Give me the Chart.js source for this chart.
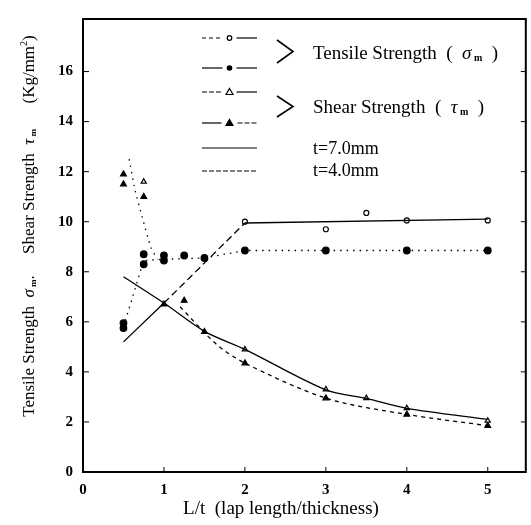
<!DOCTYPE html>
<html>
<head>
<meta charset="utf-8">
<title>Tensile and shear strength vs lap length</title>
<script src="https://cdn.jsdelivr.net/npm/chart.js@4.4.1/dist/chart.umd.min.js"></script>
<style>
  body { margin:0; background:#fff; }
  #wrap { width:531px; height:525px; }
</style>
</head>
<body>
<div id="wrap"><canvas id="myChart"></canvas></div>
<script>
// x = L/t (lap length/thickness), y = strength in Kg/mm2
// fitted lines
var tensile7LineX = [0.5, 1, 2, 5];
var tensile7LineY = [5.2, 6.75, 9.95, 10.1];
var tensile4LineX = [0.5, 0.75, 1, 1.5, 2, 5];
var tensile4LineY = [5.8, 8.45, 8.5, 8.55, 8.85, 8.85];
var shear7LineX = [0.5, 1, 1.5, 2, 3, 3.5, 4, 5];
var shear7LineY = [7.8, 6.75, 5.62, 4.9, 3.28, 2.94, 2.54, 2.1];
var shear4LineX = [1.2, 1.65, 2, 3, 4, 5];
var shear4LineY = [6.6, 5.1, 4.35, 2.95, 2.3, 1.85];
var shearShortLineX = [0.57, 0.64, 0.73, 0.84, 0.92];
var shearShortLineY = [12.5, 11.3, 10.2, 8.96, 8.5];

// measured points
var tensile7X = [2, 3, 3.5, 4, 5];
var tensile7Y = [10.0, 9.7, 10.35, 10.05, 10.05];
var tensile4X = [0.5, 0.5, 0.75, 0.75, 1, 1, 1.25, 1.5, 2, 3, 4, 5];
var tensile4Y = [5.95, 5.75, 8.7, 8.3, 8.65, 8.45, 8.65, 8.55, 8.85, 8.85, 8.85, 8.85];
var shear7X = [0.75, 2, 3, 3.5, 4, 5];
var shear7Y = [11.6, 4.9, 3.3, 2.95, 2.55, 2.05];
var shear4X = [0.5, 0.5, 0.75, 1, 1.25, 1.5, 2, 3, 4, 5];
var shear4Y = [11.9, 11.5, 11.0, 6.7, 6.85, 5.6, 4.35, 2.95, 2.3, 1.85];

var xTickValues = [0, 1, 2, 3, 4, 5];
var yTickValues = [0, 2, 4, 6, 8, 10, 12, 14, 16];

var serif = "'Liberation Serif', 'DejaVu Serif', serif";

function pts(xs, ys) {
  return xs.map(function(x, i) { return {x: x, y: ys[i]}; });
}

function lineSet(xs, ys, dash, tension) {
  return {
    data: pts(xs, ys), showLine: true, pointRadius: 0,
    borderColor: '#000', borderWidth: 1.3, borderDash: dash,
    tension: tension || 0, fill: false
  };
}

function markSet(xs, ys, style, filled, r) {
  return {
    data: pts(xs, ys), showLine: false, pointStyle: style, pointRadius: r,
    pointBackgroundColor: filled ? '#000' : '#fff', pointBorderColor: '#000',
    pointBorderWidth: 1.2
  };
}

var t7 = lineSet(tensile7LineX, tensile7LineY, [], 0);
t7.segment = { borderDash: function(c) { return c.p0DataIndex == 1 ? [7, 4] : []; } };

var datasets = [
  t7,
  lineSet(tensile4LineX, tensile4LineY, [1.5, 5], 0),
  lineSet(shear7LineX, shear7LineY, [], 0.3),
  lineSet(shear4LineX, shear4LineY, [4, 4], 0.3),
  lineSet(shearShortLineX, shearShortLineY, [1.5, 5], 0.2),
  markSet(tensile7X, tensile7Y, 'circle', false, 2.5),
  markSet(tensile4X, tensile4Y, 'circle', true, 3.3),
  markSet(shear7X, shear7Y, 'triangle', false, 3),
  markSet(shear4X, shear4Y, 'triangle', true, 3.3)
];

// writes a run of text pieces [text, font, dy] starting at x
function textRun(ctx, parts, x, y) {
  parts.forEach(function(p) {
    ctx.font = p[1];
    ctx.fillText(p[0], x, y + (p[2] || 0));
    x += ctx.measureText(p[0]).width;
  });
}
function runWidth(ctx, parts) {
  var w = 0;
  parts.forEach(function(p) { ctx.font = p[1]; w += ctx.measureText(p[0]).width; });
  return w;
}

// box around plot, inward ticks and axis titles
var frame = {
  id: 'frame',
  afterDraw: function(chart) {
    var ctx = chart.ctx, a = chart.chartArea;
    var xs = chart.scales.x, ys = chart.scales.y;
    ctx.save();
    ctx.strokeStyle = '#000';
    ctx.fillStyle = '#000';
    ctx.lineWidth = 2;
    ctx.strokeRect(a.left, a.top, a.right - a.left, a.bottom - a.top);
    ctx.lineWidth = 1;
    ctx.beginPath();
    xTickValues.forEach(function(v) {
      var px = xs.getPixelForValue(v);
      ctx.moveTo(px, a.bottom); ctx.lineTo(px, a.bottom - 5);
    });
    yTickValues.forEach(function(v) {
      var py = ys.getPixelForValue(v);
      ctx.moveTo(a.left, py); ctx.lineTo(a.left + 6, py);
      ctx.moveTo(a.right, py); ctx.lineTo(a.right - 5, py);
    });
    ctx.stroke();

    ctx.textBaseline = 'alphabetic';
    // x title
    var xt = [['L/t  (lap length/thickness)', '19px ' + serif]];
    textRun(ctx, xt, 281 - runWidth(ctx, xt) / 2, 514);

    // y title, rotated
    var f = '17px ' + serif, fi = 'italic 17px ' + serif, fs = 'bold 9px ' + serif;
    var yt = [['Tensile Strength  ', f], ['σ', fi], [' m', fs, 2], ['.     Shear Strength  ', f],
              ['τ', fi], [' m', fs, 2], ['      (Kg/mm', f], ['2', '10px ' + serif, -7], [')', f]];
    ctx.translate(34, 226);
    ctx.rotate(-Math.PI / 2);
    textRun(ctx, yt, -runWidth(ctx, yt) / 2, 0);
    ctx.restore();
  }
};

// legend drawn in the upper part of the plot
var legendBox = {
  id: 'legendBox',
  afterDraw: function(chart) {
    var ctx = chart.ctx, a = chart.chartArea;
    var x0 = a.left + 119, x1 = a.left + 174, xm = (x0 + x1) / 2;
    var tx = a.left + 230;
    ctx.save();
    ctx.strokeStyle = '#000';
    ctx.fillStyle = '#000';
    ctx.lineWidth = 1.2;

    function seg(xa, xb, y, dash) {
      ctx.setLineDash(dash);
      ctx.beginPath(); ctx.moveTo(xa, y); ctx.lineTo(xb, y); ctx.stroke();
      ctx.setLineDash([]);
    }
    function mark(y, kind) {
      ctx.beginPath();
      if (kind == 'oc') { ctx.arc(xm, y, 2.3, 0, Math.PI * 2); ctx.fillStyle = '#fff'; ctx.fill(); ctx.stroke(); }
      if (kind == 'fc') { ctx.arc(xm, y, 2.8, 0, Math.PI * 2); ctx.fillStyle = '#000'; ctx.fill(); }
      if (kind == 'ot' || kind == 'ft') {
        ctx.moveTo(xm, y - 3.5); ctx.lineTo(xm + 3.5, y + 2.5); ctx.lineTo(xm - 3.5, y + 2.5); ctx.closePath();
        ctx.fillStyle = kind == 'ft' ? '#000' : '#fff'; ctx.fill(); ctx.stroke();
      }
      ctx.fillStyle = '#000';
    }
    var rows = [a.top + 19, a.top + 49, a.top + 73, a.top + 104, a.top + 129, a.top + 152];
    seg(x0, xm - 8, rows[0], [4, 3]); seg(xm + 7, x1, rows[0], []); mark(rows[0], 'oc');
    seg(x0, xm - 7, rows[1], []); seg(xm + 7, x1, rows[1], []); mark(rows[1], 'fc');
    seg(x0, xm - 8, rows[2], [5, 2]); seg(xm + 7, x1, rows[2], []); mark(rows[2], 'ot');
    seg(x0, xm - 8, rows[3], []); seg(xm + 8, x1, rows[3], [5, 2]); mark(rows[3], 'ft');
    seg(x0, x1, rows[4], []);
    seg(x0, x1, rows[5], [5, 2]);

    // brackets
    ctx.lineWidth = 1.6;
    [[a.top + 21, a.top + 44], [a.top + 77, a.top + 98]].forEach(function(b) {
      ctx.beginPath();
      ctx.moveTo(a.left + 194, b[0]);
      ctx.lineTo(a.left + 210, (b[0] + b[1]) / 2);
      ctx.lineTo(a.left + 194, b[1]);
      ctx.stroke();
    });

    ctx.textBaseline = 'alphabetic';
    var f = '19px ' + serif, fi = 'italic 19px ' + serif, fs = 'bold 10px ' + serif;
    textRun(ctx, [['Tensile Strength  (  ', f], ['σ', fi], [' m', fs, 2], ['  )', f]], tx, a.top + 40);
    textRun(ctx, [['Shear Strength  (  ', f], ['τ', fi], [' m', fs, 2], ['  )', f]], tx, a.top + 94);
    textRun(ctx, [['t=7.0mm', '18px ' + serif]], tx, a.top + 135);
    textRun(ctx, [['t=4.0mm', '18px ' + serif]], tx, a.top + 157);
    ctx.restore();
  }
};

new Chart(document.getElementById('myChart'), {
  type: 'scatter',
  data: { datasets: datasets },
  options: {
    responsive: true,
    maintainAspectRatio: false,
    animation: false,
    layout: { padding: { top: 8, right: 5, left: 0, bottom: 0 } },
    plugins: { legend: { display: false }, tooltip: { enabled: false } },
    scales: {
      x: {
        type: 'linear', min: 0, max: 5.47,
        afterBuildTicks: function(s) { s.ticks = xTickValues.map(function(v) { return {value: v}; }); },
        afterFit: function(s) { s.height = 53; },
        grid: { display: false, drawTicks: false },
        border: { display: false },
        ticks: { padding: 9, color: '#000', font: { family: serif, size: 15, weight: 'bold' } }
      },
      y: {
        type: 'linear', min: 0, max: 18.1,
        afterBuildTicks: function(s) { s.ticks = yTickValues.map(function(v) { return {value: v}; }); },
        afterFit: function(s) { s.width = 83; },
        grid: { display: false, drawTicks: false },
        border: { display: false },
        ticks: { padding: 10, color: '#000', font: { family: serif, size: 15, weight: 'bold' } }
      }
    }
  },
  plugins: [frame, legendBox]
});
</script>
</body>
</html>
